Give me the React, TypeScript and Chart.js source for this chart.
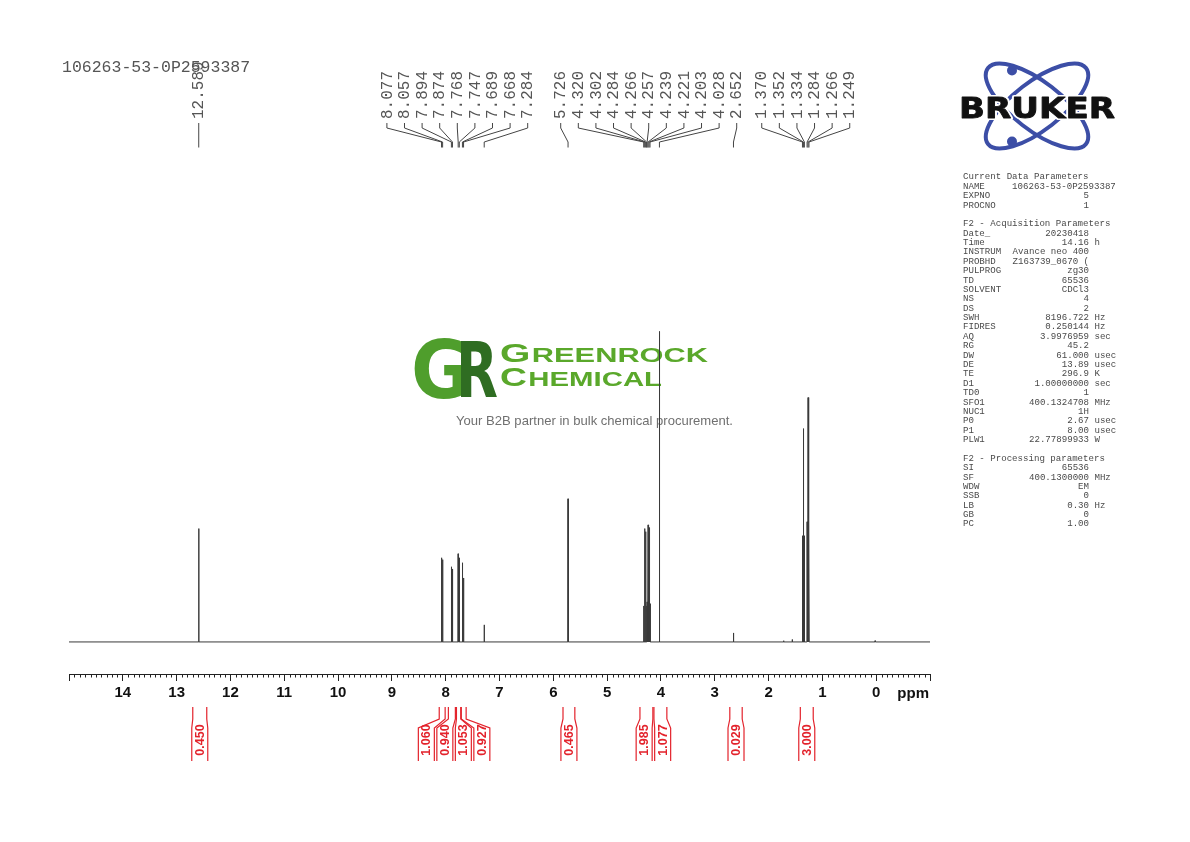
import React, { useEffect, useRef } from 'react';
import { Chart, registerables } from 'chart.js';

Chart.register(...registerables);

// ---------------- data ----------------
const TITLE = '106263-53-0P2593387';

// labelled peaks (ppm) and their heights (relative, tallest = 100)
const peakPpm = [
  12.589, 8.077, 8.057, 7.894, 7.874, 7.768, 7.747, 7.689, 7.668, 7.284,
  5.726, 4.32, 4.302, 4.284, 4.266, 4.257, 4.239, 4.221, 4.203, 4.028,
  2.652, 1.37, 1.352, 1.334, 1.284, 1.266, 1.249,
];
const peakHeight = [
  36.5, 27.1, 26.5, 24.2, 23.5, 28.4, 27.1, 25.5, 20.6, 5.5,
  46.1, 11.6, 36.5, 35.5, 11.6, 12.9, 37.7, 36.8, 12.3, 100,
  2.9, 34.2, 68.7, 34.2, 38.7, 78.7, 39.4,
];
const peakLabel = [
  '12.589', '8.077', '8.057', '7.894', '7.874', '7.768', '7.747', '7.689', '7.668', '7.284',
  '5.726', '4.320', '4.302', '4.284', '4.266', '4.257', '4.239', '4.221', '4.203', '4.028',
  '2.652', '1.370', '1.352', '1.334', '1.284', '1.266', '1.249',
];
// small unlabelled signals
const minorPpm = [1.72, 1.56, 0.02];
const minorHeight = [0.4, 0.8, 0.4];

// integrals
const integralFrom = [12.70, 8.12, 7.95, 7.8, 7.71, 5.82, 4.39, 4.13, 2.72, 1.41];
const integralTo = [12.44, 8.01, 7.82, 7.72, 7.62, 5.6, 4.15, 3.89, 2.49, 1.17];
const integralValue = ['0.450', '1.060', '0.940', '1.053', '0.927', '0.465', '1.985', '1.077', '0.029', '3.000'];

// axis
const PPM_MAX = 15;
const PPM_MIN = -1;
const AXIS_UNIT = 'ppm';

// acquisition parameters [key, value, unit]
const paramRows: [string, string, string][] = [
  ['Current Data Parameters', '', ''],
  ['NAME', '106263-53-0P2593387', ''],
  ['EXPNO', '5', ''],
  ['PROCNO', '1', ''],
  ['', '', ''],
  ['F2 - Acquisition Parameters', '', ''],
  ['Date_', '20230418', ''],
  ['Time', '14.16', 'h'],
  ['INSTRUM', 'Avance neo 400', ''],
  ['PROBHD', 'Z163739_0670 (', ''],
  ['PULPROG', 'zg30', ''],
  ['TD', '65536', ''],
  ['SOLVENT', 'CDCl3', ''],
  ['NS', '4', ''],
  ['DS', '2', ''],
  ['SWH', '8196.722', 'Hz'],
  ['FIDRES', '0.250144', 'Hz'],
  ['AQ', '3.9976959', 'sec'],
  ['RG', '45.2', ''],
  ['DW', '61.000', 'usec'],
  ['DE', '13.89', 'usec'],
  ['TE', '296.9', 'K'],
  ['D1', '1.00000000', 'sec'],
  ['TD0', '1', ''],
  ['SFO1', '400.1324708', 'MHz'],
  ['NUC1', '1H', ''],
  ['P0', '2.67', 'usec'],
  ['P1', '8.00', 'usec'],
  ['PLW1', '22.77899933', 'W'],
  ['', '', ''],
  ['F2 - Processing parameters', '', ''],
  ['SI', '65536', ''],
  ['SF', '400.1300000', 'MHz'],
  ['WDW', 'EM', ''],
  ['SSB', '0', ''],
  ['LB', '0.30', 'Hz'],
  ['GB', '0', ''],
  ['PC', '1.00', ''],
];

const BRAND_NAME = 'BRUKER';
const WM_LINE1 = 'GREENROCK';
const WM_LINE2 = 'CHEMICAL';
const WM_TAG = 'Your B2B partner in bulk chemical procurement.';

// ---------------- helpers ----------------
function buildSpectrum() {
  const all: { p: number; h: number }[] = [];
  peakPpm.forEach((p, i) => all.push({ p, h: peakHeight[i] }));
  minorPpm.forEach((p, i) => all.push({ p, h: minorHeight[i] }));
  all.sort((a, b) => b.p - a.p);
  const w = 0.0035;
  const pts: { x: number; y: number }[] = [{ x: PPM_MAX, y: 0 }];
  all.forEach(({ p, h }) => {
    pts.push({ x: p + w, y: 0 });
    pts.push({ x: p, y: h });
    pts.push({ x: p - w, y: 0 });
  });
  pts.push({ x: PPM_MIN, y: 0 });
  return pts;
}

function spread(desired: number[], gap: number): number[] {
  const order = desired.map((_, i) => i).sort((a, b) => desired[a] - desired[b]);
  const clusters = order.map((i) => ({ items: [i], center: desired[i] }));
  let changed = true;
  while (changed) {
    changed = false;
    for (let k = 0; k < clusters.length - 1; k++) {
      const A = clusters[k];
      const B = clusters[k + 1];
      const aEnd = A.center + ((A.items.length - 1) / 2) * gap;
      const bStart = B.center - ((B.items.length - 1) / 2) * gap;
      if (bStart - aEnd < gap - 1e-6) {
        const items = A.items.concat(B.items);
        const center = items.reduce((s, i) => s + desired[i], 0) / items.length;
        clusters.splice(k, 2, { items, center });
        changed = true;
        break;
      }
    }
  }
  const out: number[] = new Array(desired.length);
  clusters.forEach((c) =>
    c.items.forEach((i, j) => {
      out[i] = c.center + (j - (c.items.length - 1) / 2) * gap;
    })
  );
  return out;
}

function fitText(ctx: CanvasRenderingContext2D, text: string, x: number, y: number, width: number) {
  const m = ctx.measureText(text).width;
  ctx.save();
  ctx.translate(x, y);
  ctx.scale(width / m, 1);
  ctx.fillText(text, 0, 0);
  ctx.restore();
}

function smallCaps(
  ctx: CanvasRenderingContext2D,
  text: string,
  x: number,
  baseline: number,
  big: number,
  small: number,
  width: number,
  family: string
) {
  const first = text[0];
  const rest = text.slice(1);
  ctx.font = `bold ${big}px ${family}`;
  const w1 = ctx.measureText(first).width;
  ctx.font = `bold ${small}px ${family}`;
  const w2 = ctx.measureText(rest).width;
  const sx = width / (w1 + w2 + 1);
  ctx.save();
  ctx.translate(x, baseline);
  ctx.scale(sx, 1);
  ctx.font = `bold ${big}px ${family}`;
  ctx.fillText(first, 0, 0);
  ctx.font = `bold ${small}px ${family}`;
  ctx.fillText(rest, w1 + 1, 0);
  ctx.restore();
}

// ---------------- plugins ----------------
const watermarkPlugin = {
  id: 'watermark',
  beforeDatasetsDraw(chart: any) {
    const ctx: CanvasRenderingContext2D = chart.ctx;
    ctx.save();
    ctx.textBaseline = 'alphabetic';
    ctx.textAlign = 'left';
    // G
    ctx.fillStyle = '#4f9e2c';
    ctx.font = 'bold 80px "DejaVu Sans"';
    fitText(ctx, 'G', 411, 398, 60);
    // R
    ctx.fillStyle = '#2f6d22';
    ctx.font = 'bold 76px "DejaVu Sans"';
    fitText(ctx, 'R', 456, 397, 42);
    // words
    ctx.fillStyle = '#5aa82b';
    smallCaps(ctx, WM_LINE1, 500, 362, 26, 20.5, 208, '"Liberation Sans"');
    smallCaps(ctx, WM_LINE2, 500, 386, 26, 20.5, 162, '"Liberation Sans"');
    // tagline
    ctx.fillStyle = '#707070';
    ctx.font = '13px "Liberation Sans"';
    ctx.textBaseline = 'middle';
    fitText(ctx, WM_TAG, 456, 421, 277);
    ctx.restore();
  },
};

const annotPlugin = {
  id: 'annot',
  afterDraw(chart: any) {
    const ctx: CanvasRenderingContext2D = chart.ctx;
    const xs = chart.scales.x;
    ctx.save();

    // minor ticks
    ctx.strokeStyle = '#222';
    ctx.lineWidth = 1;
    const axisY = chart.chartArea.bottom;
    for (let k = PPM_MIN * 10; k <= PPM_MAX * 10; k++) {
      if (k % 10 === 0) continue;
      const px = Math.round(xs.getPixelForValue(k / 10)) + 0.5;
      ctx.beginPath();
      ctx.moveTo(px, axisY);
      ctx.lineTo(px, axisY + 3.5);
      ctx.stroke();
    }
    // unit
    ctx.fillStyle = '#111';
    ctx.font = 'bold 15px "Liberation Sans"';
    ctx.textAlign = 'right';
    ctx.textBaseline = 'middle';
    ctx.fillText(AXIS_UNIT, xs.right - 1, 694);

    // title
    ctx.fillStyle = '#555';
    ctx.font = '16.5px "Liberation Mono"';
    ctx.textAlign = 'left';
    ctx.textBaseline = 'middle';
    ctx.fillText(TITLE, 62, 68);

    // peak labels
    const peakPx = peakPpm.map((p) => xs.getPixelForValue(p));
    const labelPx = spread(peakPx, 17.6);
    ctx.strokeStyle = '#444';
    ctx.fillStyle = '#555';
    ctx.lineWidth = 1;
    ctx.font = '16px "Liberation Mono"';
    peakPpm.forEach((_, i) => {
      const lx = labelPx[i];
      const px = peakPx[i];
      ctx.beginPath();
      ctx.moveTo(lx, 123);
      ctx.lineTo(lx, 128);
      ctx.lineTo(px, 142);
      ctx.lineTo(px, 147.5);
      ctx.stroke();
      ctx.save();
      ctx.translate(lx, 119);
      ctx.rotate(-Math.PI / 2);
      ctx.textAlign = 'left';
      ctx.textBaseline = 'middle';
      ctx.fillText(peakLabel[i], 0, 0.5);
      ctx.restore();
    });

    // integrals
    const red = '#e3232c';
    const fromPx = integralFrom.map((p) => xs.getPixelForValue(p));
    const toPx = integralTo.map((p) => xs.getPixelForValue(p));
    const centers = fromPx.map((f, i) => (f + toPx[i]) / 2);
    const lab = spread(centers, 18.5);
    ctx.strokeStyle = red;
    ctx.fillStyle = red;
    ctx.lineWidth = 1.2;
    ctx.font = 'bold 12.5px "Liberation Sans"';
    integralValue.forEach((v, i) => {
      const c = lab[i];
      const hw = 8;
      [
        [fromPx[i], c - hw],
        [toPx[i], c + hw],
      ].forEach(([top, bot]) => {
        ctx.beginPath();
        ctx.moveTo(top, 707);
        ctx.lineTo(top, 719);
        ctx.lineTo(bot, 728);
        ctx.lineTo(bot, 761);
        ctx.stroke();
      });
      ctx.save();
      ctx.translate(c + 0.5, 740);
      ctx.rotate(-Math.PI / 2);
      ctx.textAlign = 'center';
      ctx.textBaseline = 'middle';
      ctx.fillText(v, 0, 0);
      ctx.restore();
    });

    // parameter block
    ctx.fillStyle = '#4a4a4a';
    ctx.font = '9.1px "Liberation Mono"';
    ctx.textBaseline = 'middle';
    const cw = ctx.measureText('0').width;
    const keyX = 963;
    const valRight = 1089;
    paramRows.forEach(([k, v, u], i) => {
      const y = 177 + i * 9.38;
      ctx.textAlign = 'left';
      if (k) ctx.fillText(k, keyX, y);
      if (v) {
        const w = ctx.measureText(v).width;
        let left = valRight - w;
        const minLeft = keyX + cw * 9;
        if (left < minLeft) left = minLeft;
        ctx.fillText(v, left, y);
      }
      if (u) ctx.fillText(u, valRight + cw, y);
    });

    // Bruker logo
    const cx = 1037;
    const cy = 106;
    ctx.strokeStyle = '#3c4ea6';
    ctx.lineWidth = 4;
    [0.66, -0.66].forEach((a) => {
      ctx.beginPath();
      ctx.ellipse(cx, cy, 62, 24, a, 0, Math.PI * 2);
      ctx.stroke();
    });
    ctx.fillStyle = '#3c4ea6';
    [
      [1012, 70.5],
      [1012, 141.5],
    ].forEach(([dx, dy]) => {
      ctx.beginPath();
      ctx.arc(dx, dy, 5, 0, Math.PI * 2);
      ctx.fill();
    });
    ctx.font = 'bold 28px "DejaVu Sans"';
    ctx.textAlign = 'left';
    ctx.textBaseline = 'alphabetic';
    const bw = ctx.measureText(BRAND_NAME).width;
    ctx.save();
    ctx.translate(959, 118);
    ctx.scale(156 / bw, 1);
    ctx.strokeStyle = '#fff';
    ctx.lineWidth = 4;
    ctx.lineJoin = 'round';
    ctx.strokeText(BRAND_NAME, 0, 0);
    ctx.fillStyle = '#111';
    ctx.fillText(BRAND_NAME, 0, 0);
    ctx.lineWidth = 0.8;
    ctx.strokeStyle = '#111';
    ctx.strokeText(BRAND_NAME, 0, 0);
    ctx.restore();

    ctx.restore();
  },
};

// ---------------- component ----------------
export default function App() {
  const ref = useRef<HTMLCanvasElement | null>(null);

  useEffect(() => {
    document.body.style.margin = '0';
    const canvas = ref.current;
    if (!canvas) return;
    const chart = new Chart(canvas, {
      type: 'line',
      data: {
        datasets: [
          {
            data: buildSpectrum(),
            borderColor: '#3a3a3a',
            borderWidth: 1,
            pointRadius: 0,
            tension: 0,
            fill: false,
          },
        ],
      },
      options: {
        animation: false,
        responsive: false,
        devicePixelRatio: 1,
        parsing: false,
        normalized: true,
        layout: { padding: { left: 69, right: 260, top: 141, bottom: 137 } },
        plugins: { legend: { display: false }, tooltip: { enabled: false } },
        scales: {
          x: {
            type: 'linear',
            reverse: true,
            min: PPM_MIN,
            max: PPM_MAX,
            border: { display: true, color: '#222', width: 1 },
            grid: { drawOnChartArea: false, drawTicks: true, tickLength: 7, color: '#222' },
            ticks: {
              stepSize: 1,
              autoSkip: false,
              maxRotation: 0,
              padding: 3,
              color: '#111',
              font: { family: '"Liberation Sans"', size: 15, weight: 'bold' },
              callback: (v: any) => (v === PPM_MAX || v === PPM_MIN ? '' : String(v)),
            },
          },
          y: { display: false, min: -10.32, max: 161.3 },
        },
      },
      plugins: [watermarkPlugin, annotPlugin],
    } as any);
    return () => chart.destroy();
  }, []);

  return (
    <div style={{ position: 'absolute', left: 0, top: 0, width: 1190, height: 842, background: '#fff' }}>
      <canvas ref={ref} width={1190} height={842} style={{ width: 1190, height: 842, display: 'block' }} />
    </div>
  );
}
